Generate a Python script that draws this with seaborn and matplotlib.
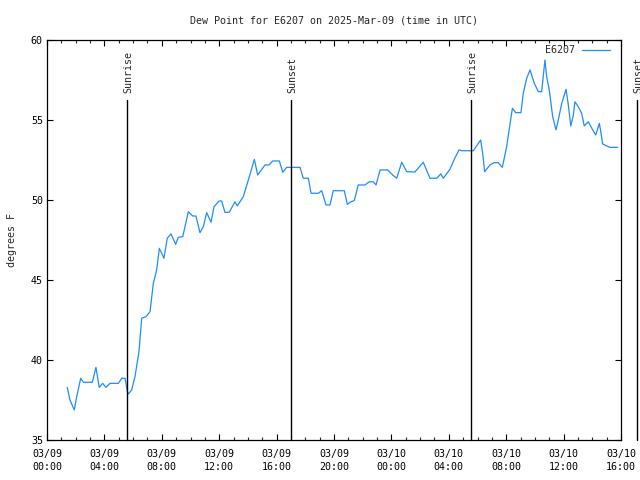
import matplotlib
matplotlib.use("Agg")
import matplotlib.pyplot as plt
import seaborn as sns
import pandas as pd
from matplotlib.ticker import MultipleLocator
from matplotlib.lines import Line2D

# hours since 2025-03-09 00:00 UTC
hours = [1.41, 1.60, 1.90, 2.07, 2.35, 2.53, 3.16, 3.41, 3.64, 3.88, 4.11, 4.39, 4.97,
         5.21, 5.44, 5.60, 5.67, 5.90, 6.13, 6.41, 6.60, 6.90, 7.18, 7.41, 7.64, 7.83,
         8.15, 8.38, 8.64, 8.97, 9.15, 9.46, 9.85, 10.15, 10.38, 10.66, 10.89, 11.13,
         11.43, 11.64, 11.99, 12.17, 12.40, 12.70, 13.10, 13.26, 13.68, 14.03, 14.45,
         14.68, 15.19, 15.47, 15.73, 16.19, 16.43, 16.70, 17.63, 17.86, 18.21, 18.40,
         18.91, 19.14, 19.44, 19.72, 19.95, 20.72, 20.93, 21.18, 21.41, 21.69, 22.16,
         22.46, 22.74, 22.93, 23.21, 23.74, 24.09, 24.37, 24.72, 25.07, 25.64, 26.22,
         26.69, 27.16, 27.44, 27.62, 28.08, 28.38, 28.71, 28.90, 29.71, 30.22, 30.36,
         30.50, 30.87, 31.15, 31.45, 31.73, 32.03, 32.43, 32.66, 33.03, 33.19, 33.43,
         33.66, 33.96, 34.24, 34.47, 34.70, 34.82, 35.00, 35.24, 35.47, 35.63, 35.87,
         36.17, 36.33, 36.50, 36.68, 36.79, 37.02, 37.26, 37.44, 37.72, 38.03, 38.24,
         38.49, 38.61, 38.72, 39.00, 39.23, 39.77]
dew_point = [38.29, 37.50, 36.88, 37.71, 38.86, 38.61, 38.61, 39.54, 38.29, 38.54, 38.29,
             38.54, 38.54, 38.86, 38.86, 38.02, 37.88, 38.12, 38.96, 40.52, 42.61, 42.71,
             43.02, 44.79, 45.62, 46.98, 46.36, 47.61, 47.88, 47.23, 47.67, 47.71, 49.27,
             49.00, 49.00, 47.96, 48.33, 49.21, 48.61, 49.58, 49.94, 49.94, 49.23, 49.23,
             49.89, 49.63, 50.21, 51.25, 52.54, 51.56, 52.19, 52.19, 52.44, 52.44, 51.73,
             52.04, 52.04, 51.36, 51.36, 50.42, 50.42, 50.58, 49.69, 49.69, 50.58, 50.58,
             49.73, 49.89, 49.96, 50.94, 50.94, 51.14, 51.14, 50.94, 51.88, 51.88, 51.56,
             51.36, 52.36, 51.77, 51.75, 52.36, 51.36, 51.36, 51.63, 51.36, 51.92, 52.54,
             53.13, 53.08, 53.08, 53.75, 52.92, 51.77, 52.19, 52.33, 52.33, 52.04, 53.33,
             55.73, 55.46, 55.46, 56.67, 57.61, 58.13, 57.29, 56.77, 56.77, 58.75, 57.71,
             56.88, 55.21, 54.38, 55.00, 56.04, 56.92, 55.94, 54.63, 55.31, 56.14, 55.83,
             55.42, 54.63, 54.89, 54.38, 54.06, 54.79, 54.17, 53.50, 53.38, 53.29, 53.29]

event_hours = [5.58, 17.02, 29.55, 41.12]
event_labels = ["Sunrise", "Sunset", "Sunrise", "Sunset"]

tick_hours = [0, 4, 8, 12, 16, 20, 24, 28, 32, 36, 40]
tick_labels = ["03/09\n00:00", "03/09\n04:00", "03/09\n08:00", "03/09\n12:00",
               "03/09\n16:00", "03/09\n20:00", "03/10\n00:00", "03/10\n04:00",
               "03/10\n08:00", "03/10\n12:00", "03/10\n16:00"]
y_ticks = [35, 40, 45, 50, 55, 60]

sns.set_style("ticks")
plt.rcParams["font.family"] = ["DejaVu Sans Mono"]
plt.rcParams["font.size"] = 7.2

fig = plt.figure(figsize=(6.4, 4.8), dpi=100)
ax = fig.add_axes([47 / 640, 40 / 480, 574 / 640, 400 / 480])

df = pd.DataFrame({"hour": hours, "dew": dew_point})
sns.lineplot(data=df, x="hour", y="dew", ax=ax, color="#1e8cff", linewidth=0.9,
             legend=False)

ax.set_xlim(0, 40)
ax.set_ylim(35, 60)

line_top = 56.25
for h, lab in zip(event_hours, event_labels):
    ax.plot([h, h], [35, line_top], color="black", linewidth=1.0, clip_on=False)
    ax.text(h + 0.07, line_top + 0.45, lab, rotation=90, ha="center", va="bottom",
            fontsize=7.2, clip_on=False)

ax.set_xticks(tick_hours)
ax.set_xticklabels(tick_labels, linespacing=1.35)
ax.xaxis.set_minor_locator(MultipleLocator(1))
ax.set_yticks(y_ticks)
ax.tick_params(axis="both", which="major", direction="in", length=4.5, width=0.8,
               top=True, right=True, labelsize=7.2, pad=3, colors="black")
ax.tick_params(axis="x", which="major", pad=6.8)
ax.tick_params(axis="x", which="minor", direction="in", length=2.2, width=0.8,
               top=True, bottom=True)
for s in ax.spines.values():
    s.set_linewidth(0.9)
    s.set_color("black")

ax.set_xlabel("")
ax.set_ylabel("degrees F", fontsize=7.2, labelpad=10)
ax.set_title("Dew Point for E6207 on 2025-Mar-09 (time in UTC)", fontsize=7.2, pad=12)

handle = Line2D([], [], color="#1e8cff", linewidth=0.9)
ax.legend([handle], ["E6207"], loc="upper right", bbox_to_anchor=(0.993, 1.005),
          frameon=False, markerfirst=False, handlelength=2.8, handletextpad=0.7,
          fontsize=7.2, borderaxespad=0.3)

fig.savefig("out.png", dpi=100)
